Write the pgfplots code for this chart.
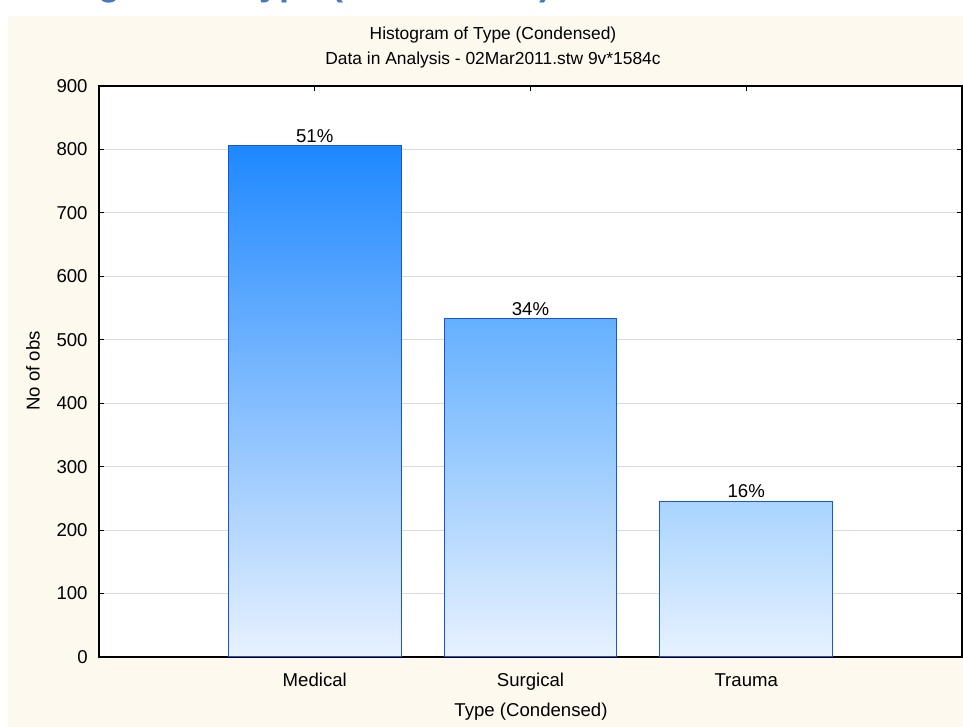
\documentclass[border=0pt]{standalone}
\usepackage{pgfplots}
\pgfplotsset{compat=1.18}
\usepackage{fontspec}
\setmainfont{Liberation Sans}

\definecolor{bg}{RGB}{253,249,238}
\definecolor{baredge}{RGB}{25,85,215}
\definecolor{barlow}{RGB}{232,242,255}
\definecolor{medtop}{RGB}{30,136,255}
\definecolor{surtop}{RGB}{100,176,255}
\definecolor{tratop}{RGB}{168,212,255}
\definecolor{gridc}{RGB}{218,218,218}
\definecolor{head}{RGB}{70,120,190}

\newcommand{\ttl}{\fontsize{8.7}{10}\selectfont}
\newcommand{\lbl}{\fontsize{9.3}{11}\selectfont}

\begin{document}
% one unit = one pixel of the 963x727 reference
\begin{tikzpicture}[x=0.5pt,y=0.5pt]
  \begin{scope}
    \clip (0,0) rectangle (963,727);
    \fill[white] (0,0) rectangle (963,727);
    \fill[bg] (8,0) rectangle (963,711);
    % page heading above the chart, cut off at the top as in the screenshot
    \node[anchor=base west, inner sep=0pt, text=head,
      font=\fontsize{18}{20}\selectfont\bfseries] at (8,731) {Histogram of Type (Condensed)};
  \end{scope}

  \node[font=\ttl] at (493,692) {Histogram of Type (Condensed)};
  \node[font=\ttl] at (493,667) {Data in Analysis - 02Mar2011.stw 9v*1584c};
  \node[font=\lbl] at (531,15) {Type (Condensed)};
  \node[font=\lbl, rotate=90] at (33,356) {No of obs};

  \begin{axis}[
    at={(49.5pt,35pt)}, anchor=south west,
    scale only axis,
    width=431.5pt, height=285.5pt,
    axis background/.style={fill=white},
    xmin=0, xmax=4, ymin=0, ymax=900,
    xtick={1,2,3}, xticklabels={Medical, Surgical, Trauma},
    ytick={0,100,...,900},
    tick align=inside, tick pos=both,
    major tick length=2.5pt,
    major tick style={black, line width=0.5pt},
    axis line style={black, line width=1pt},
    ymajorgrids, grid style={gridc, line width=0.5pt},
    /pgf/number format/assume math mode=true,
    ticklabel style={font=\lbl},
    yticklabel style={anchor=east, inner sep=0pt, xshift=-5.5pt},
    xticklabel style={anchor=north, inner sep=0pt, yshift=-8pt},
  ]
    \addplot[ybar, bar width=0.8, bar shift=0pt, draw=baredge, line width=0.5pt,
      top color=medtop, bottom color=barlow] coordinates {(1,806)};
    \addplot[ybar, bar width=0.8, bar shift=0pt, draw=baredge, line width=0.5pt,
      top color=surtop, bottom color=barlow] coordinates {(2,533)};
    \addplot[ybar, bar width=0.8, bar shift=0pt, draw=baredge, line width=0.5pt,
      top color=tratop, bottom color=barlow] coordinates {(3,245)};
    % percentage labels above the bars
    \addplot[only marks, mark=none, point meta=explicit symbolic,
      nodes near coords,
      nodes near coords style={font=\lbl, text=black, anchor=south, inner sep=1.5pt}]
      coordinates {(1,806) [51\%] (2,533) [34\%] (3,245) [16\%]};
  \end{axis}

  \pgfresetboundingbox
  \useasboundingbox (0,0) rectangle (963,727);
\end{tikzpicture}
\end{document}
